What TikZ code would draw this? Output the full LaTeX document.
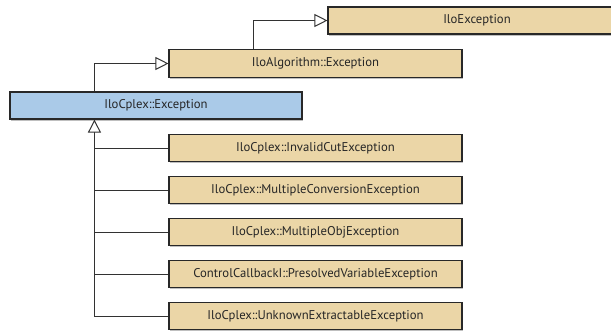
\documentclass[tikz,border=0pt]{standalone}
\usepackage{fontspec}
\setmainfont{PT Sans}
\usetikzlibrary{arrows.meta,shadows}
\definecolor{tan}{RGB}{235,214,167}
\definecolor{skyb}{RGB}{170,202,232}
\definecolor{edge}{RGB}{40,40,40}
\definecolor{wire}{RGB}{50,50,50}
\tikzset{
  cls/.style={draw=edge, line width=1.1pt, fill=tan, minimum height=27pt, inner sep=0pt,
    font=\fontsize{12.7}{14}\selectfont, text=black!85,
    drop shadow={shadow xshift=1.2pt, shadow yshift=-1.8pt, opacity=0.25, fill=black}},
  kid/.style={cls, minimum width=293pt},
  inh/.style={draw=wire, line width=1pt, -{Triangle[open, length=13pt, width=13pt, line width=1pt, fill=white]}},
  wireline/.style={draw=wire, line width=1pt}
}
\begin{document}
\begin{tikzpicture}[x=1pt,y=-1pt]
\clip (0,0) rectangle (611,330);
\useasboundingbox (0,0) rectangle (611,330);
\node[cls, minimum width=298pt] (exc) at (477,20.5) {IloException};
\node[kid, minimum height=28pt] (algo) at (315.5,63.5) {IloAlgorithm::Exception};
\node[cls, fill=skyb, minimum width=292pt] (cplex) at (156,105.5) {IloCplex::Exception};
\node[kid] (c1) at (315.5,148) {IloCplex::InvalidCutException};
\node[kid] (c2) at (315.5,190) {IloCplex::MultipleConversionException};
\node[kid] (c3) at (315.5,232) {IloCplex::MultipleObjException};
\node[kid] (c4) at (315.5,274) {ControlCallbackI::PresolvedVariableException};
\node[kid] (c5) at (315.5,316) {IloCplex::UnknownExtractableException};
\coordinate (trunk) at ([xshift=85pt]cplex.south west);
\draw[inh] ([xshift=85pt]algo.north west) |- (exc.west);
\draw[inh] ([xshift=85pt]cplex.north west) |- (algo.west);
\draw[inh] (c5.west) -| (trunk);
\foreach \k in {c1,c2,c3,c4} \draw[wireline] (\k.west) -- (\k.west -| trunk);
\end{tikzpicture}
\end{document}
